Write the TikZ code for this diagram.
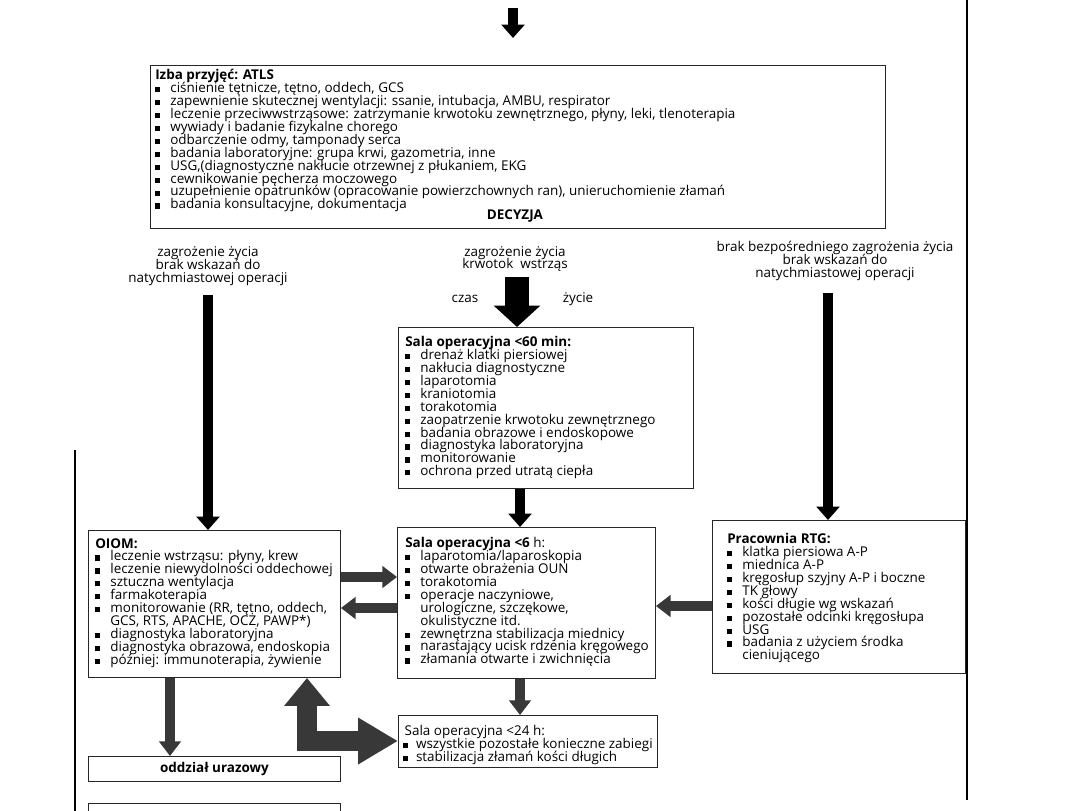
\documentclass[tikz,border=0pt]{standalone}
\usepackage{fontspec}
\setmainfont{Open Sans}
\usetikzlibrary{arrows.meta}
\newcommand{\bq}{\makebox[1.12em][l]{\raisebox{0.05ex}{\rule{0.38em}{0.38em}}}}
\newcommand{\bqs}{\makebox[0.95em][l]{\raisebox{0.05ex}{\rule{0.38em}{0.38em}}}}
\newcommand{\cq}{\hspace*{1.12em}}
\newcommand{\ff}{\fontsize{10.1}{9.7}\selectfont\lineskiplimit=-8pt\lineskip=0pt}
\begin{document}
\begin{tikzpicture}[x=0.75pt,y=-0.75pt,
  box/.style={draw=black!85,line width=0.7pt,anchor=north west,inner sep=0pt},
  txt/.style={anchor=north west,inner sep=0pt,align=left,font=\ff},
  lbl/.style={inner sep=0pt,align=center,font=\ff},
  blk/.style={line width=7.5pt,-{Triangle[width=17pt,length=10pt]}},
  gblk/.style={draw=black!78,line width=7.5pt,-{Triangle[width=16pt,length=11pt]}},
  big/.style={line width=18pt,-{Triangle[width=34pt,length=16pt]}},
  dbl/.style={draw=black!78,line width=15pt,line join=miter,{Triangle[width=33pt,length=21pt]}-{Triangle[width=33pt,length=30pt]}}
]
\clip (0,0) rectangle (1080,810);
\fill[white] (0,0) rectangle (1080,810);
% page edge lines
\coordinate (e1) at (967,0); \coordinate (e2) at (967,800);
\coordinate (e3) at (75,450); \coordinate (e4) at (75,815);
\draw[line width=0.8pt] (e1) -- (e2);
\draw[line width=0.8pt] (e3) -- (e4);

% boxes
\node[box,minimum width=735*0.75pt,minimum height=163*0.75pt] (top) at (150,65) {};
\node[box,minimum width=295*0.75pt,minimum height=161*0.75pt] (s60) at (398,327) {};
\node[box,minimum width=252*0.75pt,minimum height=147*0.75pt] (oiom) at (88,530) {};
\node[box,minimum width=258*0.75pt,minimum height=151*0.75pt] (s6) at (397,527) {};
\node[box,minimum width=253*0.75pt,minimum height=153*0.75pt] (rtg) at (712,520) {};
\node[box,minimum width=259*0.75pt,minimum height=52*0.75pt] (s24) at (398,715) {};
\node[box,minimum width=252*0.75pt,minimum height=25*0.75pt,font=\ff\bfseries] (odd) at (88,756) {oddział urazowy};
\node[box,minimum width=252*0.75pt,minimum height=40*0.75pt] (nxt) at (88,803) {};

% texts
\node[txt] (ttop) at (155,69) {\textbf{Izba przyjęć: ATLS}\\
\bq ciśnienie tętnicze, tętno, oddech, GCS\\
\bq zapewnienie skutecznej wentylacji: ssanie, intubacja, AMBU, respirator\\
\bq leczenie przeciwwstrząsowe: zatrzymanie krwotoku zewnętrznego, płyny, leki, tlenoterapia\\
\bq wywiady i badanie fizykalne chorego\\
\bq odbarczenie odmy, tamponady serca\\
\bq badania laboratoryjne: grupa krwi, gazometria, inne\\
\bq USG,(diagnostyczne nakłucie otrzewnej z płukaniem, EKG\\
\bq cewnikowanie pęcherza moczowego\\
\bq uzupełnienie opatrunków (opracowanie powierzchownych ran), unieruchomienie złamań\\
\bq badania konsultacyjne, dokumentacja};
\node[lbl,font=\ff\bfseries] (dec) at (515,216) {DECYZJA};

\node[txt] (t60) at (405,336) {\textbf{Sala operacyjna <60 min:}\\
\bq drenaż klatki piersiowej\\
\bq nakłucia diagnostyczne\\
\bq laparotomia\\
\bq kraniotomia\\
\bq torakotomia\\
\bq zaopatrzenie krwotoku zewnętrznego\\
\bq badania obrazowe i endoskopowe\\
\bq diagnostyka laboratoryjna\\
\bq monitorowanie\\
\bq ochrona przed utratą ciepła};

\node[txt] (toiom) at (95,538) {\textbf{OIOM:}\\
\bq leczenie wstrząsu: płyny, krew\\
\bq leczenie niewydolności oddechowej\\
\bq sztuczna wentylacja\\
\bq farmakoterapia\\
\bq monitorowanie (RR, tętno, oddech,\\
\cq GCS, RTS, APACHE, OCŻ, PAWP*)\\
\bq diagnostyka laboratoryjna\\
\bq diagnostyka obrazowa, endoskopia\\
\bq później: immunoterapia, żywienie};

\node[txt] (t6) at (405,537) {\textbf{Sala operacyjna <6} h:\\
\bq laparotomia/laparoskopia\\
\bq otwarte obrażenia OUN\\
\bq torakotomia\\
\bq operacje naczyniowe,\\
\cq urologiczne, szczękowe,\\
\cq okulistyczne itd.\\
\bq zewnętrzna stabilizacja miednicy\\
\bq narastający ucisk rdzenia kręgowego\\
\bq złamania otwarte i zwichnięcia};

\node[txt] (trtg) at (727,533) {\textbf{Pracownia RTG:}\\
\bq klatka piersiowa A-P\\
\bq miednica A-P\\
\bq kręgosłup szyjny A-P i boczne\\
\bq TK głowy\\
\bq kości długie wg wskazań\\
\bq pozostałe odcinki kręgosłupa\\
\bq USG\\
\bq badania z użyciem środka\\
\cq cieniującego};

\node[txt] (t24) at (403,725) {\hspace*{0.1em}Sala operacyjna <24 h:\\
\bqs wszystkie pozostałe konieczne zabiegi\\
\bqs stabilizacja złamań kości długich};

% labels
\node[lbl] (ll) at (208,266) {zagrożenie życia\\brak wskazań do\\natychmiastowej operacji};
\node[lbl] (lm) at (515,259) {zagrożenie życia\\krwotok\ \ wstrząs};
\node[lbl] (lr) at (835,261) {brak bezpośredniego zagrożenia życia\\brak wskazań do\\natychmiastowej operacji};
\node[lbl] (czas) at (465,299) {czas};
\node[lbl] (zyc) at (578,299) {życie};

% coordinates
\coordinate (t1) at (513,8); \coordinate (t2) at (513,38);
\coordinate (m1) at (517,277);
\coordinate (l1) at (208,295);
\coordinate (r1) at (828,293);
\coordinate (xm) at (520,0);
\coordinate (x170) at (170,0);
\coordinate (x307) at (307,0);
\coordinate (y577) at (0,577);
\coordinate (y608) at (0,608);
\coordinate (y606) at (0,606);
\coordinate (y741) at (0,741);

% arrows
\draw[blk] (t1) -- (t2);
\draw[big] (m1) -- (m1 |- s60.north);
\draw[blk] (l1) -- (l1 |- oiom.north);
\draw[blk] (r1) -- (r1 |- rtg.north);
\draw[blk] (xm |- s60.south) -- (xm |- s6.north);
\draw[gblk] (oiom.east |- y577) -- (s6.west |- y577);
\draw[gblk] (s6.west |- y608) -- (oiom.east |- y608);
\draw[gblk] (rtg.west |- y606) -- (s6.east |- y606);
\draw[gblk] (x170 |- oiom.south) -- (x170 |- odd.north);
\draw[gblk] (xm |- s6.south) -- (xm |- s24.north);
\draw[dbl] (x307 |- oiom.south) -- (x307 |- y741) -- (s24.west |- y741);
\end{tikzpicture}
\end{document}
